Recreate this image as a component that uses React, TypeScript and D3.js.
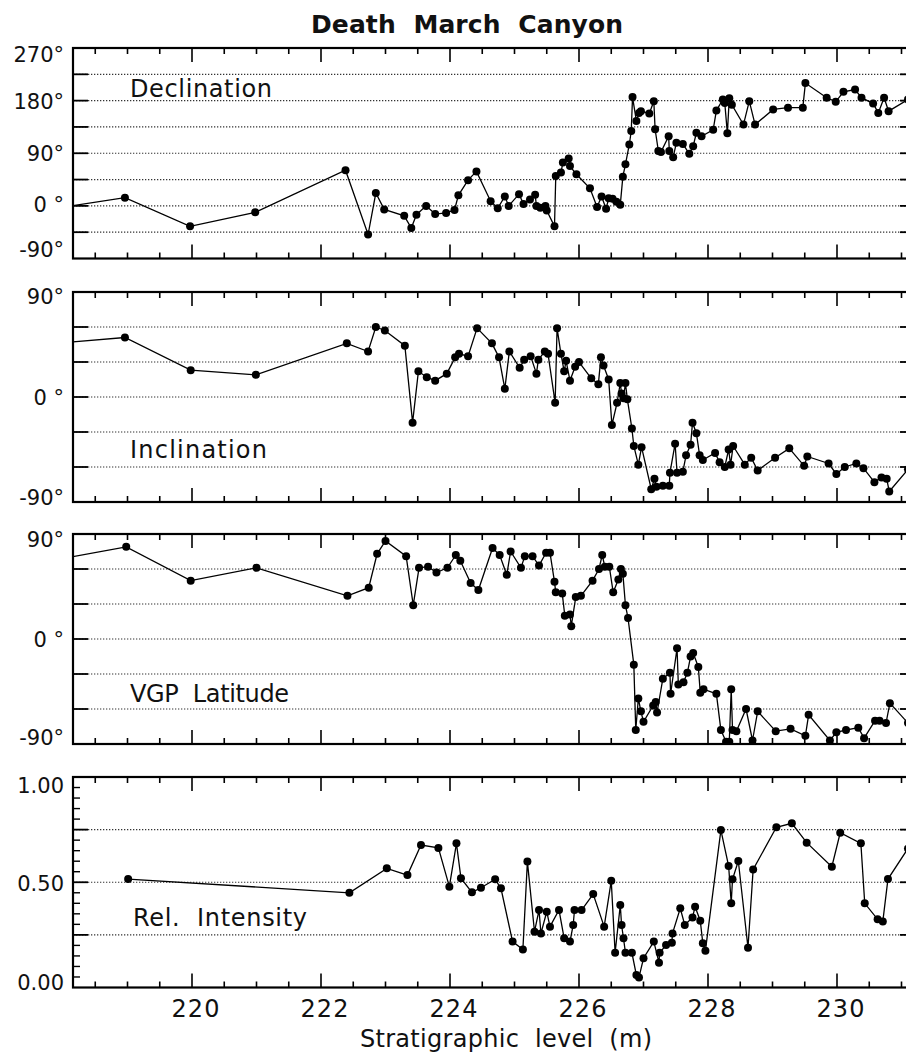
import React from 'react';
import * as d3 from 'd3';

// ---------- Data (stratigraphic level in m) ----------
const decDepth = [217.9, 218.96, 219.97, 220.98, 222.38, 222.73, 222.85, 222.98, 223.29, 223.4, 223.48, 223.63, 223.77, 223.94, 224.07, 224.13, 224.28, 224.41, 224.63, 224.74, 224.85, 224.91, 225.07, 225.14, 225.24, 225.32, 225.34, 225.4, 225.48, 225.5, 225.62, 225.64, 225.72, 225.75, 225.84, 225.86, 225.96, 226.17, 226.28, 226.35, 226.42, 226.46, 226.52, 226.58, 226.64, 226.68, 226.72, 226.78, 226.81, 226.83, 226.89, 226.93, 226.96, 227.09, 227.16, 227.18, 227.23, 227.27, 227.39, 227.4, 227.46, 227.51, 227.61, 227.71, 227.77, 227.82, 227.9, 228.08, 228.13, 228.23, 228.26, 228.3, 228.33, 228.37, 228.55, 228.64, 228.73, 229.01, 229.24, 229.47, 229.51, 229.84, 229.98, 230.1, 230.28, 230.38, 230.56, 230.64, 230.73, 230.8, 231.1];
const decValue = [-4, 14, -35, -11, 61, -49, 22, -6, -17, -38, -15, 0, -14, -12, -7, 18, 44, 59, 8, -4, 16, 0, 20, 3, 11, 19, 0, -3, 0, -8, -35, 51, 57, 74, 81, 68, 54, 30, -2, 16, -5, 13, 12, 7, 2, 50, 71, 105, 128, 186, 145, 159, 162, 158, 179, 131, 94, 92, 119, 94, 83, 108, 106, 89, 102, 125, 119, 130, 163, 182, 176, 124, 184, 173, 139, 179, 139, 165, 168, 168, 210, 185, 178, 195, 199, 185, 175, 159, 185, 162, 182];

const incDepth = [217.9, 218.96, 219.98, 220.99, 222.4, 222.73, 222.85, 222.99, 223.3, 223.42, 223.51, 223.64, 223.77, 223.95, 224.08, 224.14, 224.28, 224.42, 224.65, 224.76, 224.85, 224.92, 225.08, 225.15, 225.25, 225.34, 225.37, 225.47, 225.52, 225.63, 225.66, 225.72, 225.77, 225.8, 225.86, 225.94, 226.0, 226.19, 226.3, 226.34, 226.38, 226.46, 226.51, 226.59, 226.64, 226.66, 226.69, 226.72, 226.75, 226.82, 226.85, 226.92, 226.97, 227.12, 227.17, 227.2, 227.3, 227.4, 227.41, 227.49, 227.52, 227.61, 227.66, 227.73, 227.76, 227.82, 227.87, 227.92, 228.11, 228.18, 228.26, 228.32, 228.35, 228.39, 228.57, 228.67, 228.77, 229.04, 229.26, 229.49, 229.54, 229.87, 229.99, 230.12, 230.3, 230.41, 230.58, 230.69, 230.77, 230.81, 231.1];
const incValue = [46, 51, 23, 19, 46, 39, 60, 57, 44, -22, 22, 17, 14, 20, 34, 37, 35, 59, 46, 34, 7, 39, 25, 32, 35, 20, 32, 39, 37, -5, 59, 37, 22, 31, 14, 26, 30, 16, 11, 34, 27, 15, -24, -5, 12, 3, -1, 12, -2, -27, -42, -58, -43, -79, -70, -77, -76, -76, -65, -40, -65, -64, -50, -41, -22, -31, -50, -54, -48, -56, -60, -45, -58, -42, -58, -52, -63, -52, -44, -59, -51, -57, -66, -60, -57, -61, -73, -69, -70, -81, -62];

const vgpDepth = [217.9, 218.98, 219.98, 221.0, 222.41, 222.74, 222.87, 223.0, 223.32, 223.43, 223.52, 223.66, 223.79, 223.96, 224.09, 224.16, 224.32, 224.44, 224.66, 224.77, 224.88, 224.94, 225.1, 225.16, 225.28, 225.38, 225.49, 225.55, 225.62, 225.64, 225.74, 225.78, 225.86, 225.88, 225.95, 226.03, 226.21, 226.31, 226.36, 226.4, 226.47, 226.53, 226.61, 226.65, 226.68, 226.72, 226.76, 226.85, 226.88, 226.92, 226.96, 227.0, 227.15, 227.19, 227.21, 227.3, 227.41, 227.42, 227.52, 227.54, 227.62, 227.68, 227.73, 227.77, 227.85, 227.88, 227.93, 228.13, 228.2, 228.28, 228.33, 228.36, 228.38, 228.44, 228.59, 228.69, 228.77, 229.05, 229.28, 229.51, 229.56, 229.89, 229.99, 230.14, 230.33, 230.42, 230.59, 230.66, 230.76, 230.82, 231.1];
const vgpValue = [68, 79, 50, 61, 37, 44, 73, 84, 71, 29, 61, 62, 57, 61, 72, 67, 48, 42, 78, 72, 55, 75, 61, 71, 71, 63, 74, 74, 49, 40, 39, 20, 21, 11, 36, 37, 50, 60, 72, 62, 62, 40, 51, 60, 56, 29, 18, -22, -78, -51, -62, -71, -57, -54, -63, -34, -29, -47, -8, -39, -37, -29, -15, -12, -24, -46, -43, -47, -78, -88, -88, -43, -78, -79, -60, -87, -62, -79, -77, -83, -65, -87, -80, -78, -76, -85, -70, -70, -72, -55, -72];

const intDepth = [219.01, 222.44, 223.02, 223.34, 223.55, 223.82, 223.99, 224.1, 224.17, 224.34, 224.48, 224.7, 224.79, 224.97, 225.13, 225.2, 225.31, 225.38, 225.41, 225.5, 225.55, 225.69, 225.77, 225.86, 225.91, 225.93, 226.04, 226.22, 226.39, 226.5, 226.56, 226.64, 226.66, 226.69, 226.72, 226.82, 226.89, 226.93, 227.0, 227.16, 227.24, 227.25, 227.35, 227.44, 227.45, 227.57, 227.64, 227.76, 227.8, 227.88, 227.92, 227.96, 228.2, 228.32, 228.36, 228.38, 228.47, 228.62, 228.7, 229.06, 229.3, 229.53, 229.92, 230.05, 230.37, 230.43, 230.63, 230.71, 230.79, 231.1];
const intValue = [0.515, 0.45, 0.566, 0.534, 0.677, 0.663, 0.479, 0.685, 0.519, 0.452, 0.474, 0.514, 0.471, 0.218, 0.181, 0.598, 0.265, 0.368, 0.257, 0.36, 0.289, 0.368, 0.234, 0.218, 0.297, 0.368, 0.368, 0.444, 0.289, 0.507, 0.165, 0.392, 0.297, 0.234, 0.165, 0.165, 0.059, 0.048, 0.139, 0.218, 0.118, 0.165, 0.202, 0.213, 0.257, 0.376, 0.297, 0.333, 0.384, 0.317, 0.21, 0.175, 0.748, 0.577, 0.4, 0.514, 0.601, 0.189, 0.561, 0.761, 0.78, 0.688, 0.574, 0.735, 0.685, 0.4, 0.324, 0.313, 0.515, 0.66];

const xTickLabels = ['220', '222', '224', '226', '228', '230'];
const decTicks = ['270°', '180°', '90°', '0 °', '-90°'];
const incTicks = ['90°', '0 °', '-90°'];
const vgpTicks = ['90°', '0 °', '-90°'];
const intTicks = ['1.00', '0.50', '0.00'];

const FONT = '"DejaVu Sans", Verdana, sans-serif';
const X0 = 73;
const X1 = 915;
const x = d3.scaleLinear().domain([220, 230]).range([192, 837]);

type Panel = {
  id: string;
  depth: number[];
  value: number[];
  top: number;
  bottom: number;
  domain: [number, number];
  grid: number[];
  minor: number[];
  tickVals: number[];
  tickText: string[];
  tickOffset: number[];
  label: string;
  labelX: number;
  labelY: number;
  labelLen: number;
};

const panels: Panel[] = [
  {
    id: 'dec', depth: decDepth, value: decValue, top: 48, bottom: 258.5, domain: [-90, 270],
    grid: [-45, 0, 45, 90, 135, 180, 225], minor: [],
    tickVals: [270, 180, 90, 0, -90], tickText: decTicks, tickOffset: [6, 0.5, 0, -1.5, -9.5],
    label: 'Declination', labelX: 130, labelY: 97, labelLen: 142,
  },
  {
    id: 'inc', depth: incDepth, value: incValue, top: 292, bottom: 502, domain: [-90, 90],
    grid: [-60, -30, 0, 30, 60], minor: [],
    tickVals: [90, 0, -90], tickText: incTicks, tickOffset: [4, 0.5, -4.5],
    label: 'Inclination', labelX: 130, labelY: 458, labelLen: 137,
  },
  {
    id: 'vgp', depth: vgpDepth, value: vgpValue, top: 534, bottom: 744, domain: [-90, 90],
    grid: [-60, -30, 0, 30, 60], minor: [],
    tickVals: [90, 0, -90], tickText: vgpTicks, tickOffset: [5.5, 0.5, -6.5],
    label: 'VGP  Latitude', labelX: 130, labelY: 702, labelLen: 159,
  },
  {
    id: 'int', depth: intDepth, value: intValue, top: 777, bottom: 987.5, domain: [0, 1],
    grid: [0.25, 0.5, 0.75], minor: d3.range(0.05, 1.0, 0.05).map((v) => Math.round(v * 100) / 100),
    tickVals: [1, 0.5, 0], tickText: intTicks, tickOffset: [8.5, 1.5, -5],
    label: 'Rel.  Intensity', labelX: 133, labelY: 926, labelLen: 174,
  },
];

const xTicks = d3.range(218.5, 231.01, 0.5);

function PanelView({ p }: { p: Panel }) {
  const y = d3.scaleLinear().domain(p.domain).range([p.bottom, p.top]);
  const pts = p.depth.map((d, i) => [x(d), y(p.value[i])] as [number, number]);
  const line = d3.line()(pts) || '';
  const clipId = `clip-${p.id}`;
  const isMajorX = (t: number) => Math.abs(t / 2 - Math.round(t / 2)) < 1e-6;
  return (
    <g>
      <defs>
        <clipPath id={clipId}>
          <rect x={X0} y={p.top} width={X1 - X0} height={p.bottom - p.top} />
        </clipPath>
      </defs>
      {p.grid.map((g) => (
        <line key={`g${g}`} x1={X0} x2={X1} y1={y(g)} y2={y(g)} stroke="#333" strokeWidth={1.2} strokeDasharray="1.3 1.7" />
      ))}
      {p.grid.map((g) => (
        <g key={`t${g}`}>
          <line x1={X0} x2={X0 + 15} y1={y(g)} y2={y(g)} stroke="#000" strokeWidth={1.8} />
          <line x1={X1 - 15} x2={X1} y1={y(g)} y2={y(g)} stroke="#000" strokeWidth={1.8} />
        </g>
      ))}
      {p.minor.filter((m) => !p.grid.includes(m)).map((m) => (
        <line key={`m${m}`} x1={X0} x2={X0 + 7} y1={y(m)} y2={y(m)} stroke="#000" strokeWidth={1.4} />
      ))}
      {xTicks.map((t) => {
        const len = isMajorX(t) ? 14 : 6;
        return (
          <g key={`x${t}`}>
            <line x1={x(t)} x2={x(t)} y1={p.top} y2={p.top + len} stroke="#000" strokeWidth={1.6} />
            <line x1={x(t)} x2={x(t)} y1={p.bottom} y2={p.bottom - len} stroke="#000" strokeWidth={1.6} />
          </g>
        );
      })}
      <g clipPath={`url(#${clipId})`}>
        <path d={line} fill="none" stroke="#000" strokeWidth={1.3} />
        {pts.map(([px, py], i) => (
          <circle key={i} cx={px} cy={py} r={4} fill="#000" />
        ))}
      </g>
      <rect x={X0} y={p.top} width={X1 - X0} height={p.bottom - p.top} fill="none" stroke="#000" strokeWidth={2.2} />
      {p.tickVals.map((v, i) => (
        <text key={`l${v}`} x={64} y={y(v) + p.tickOffset[i]} dy="0.36em" textAnchor="end" fontFamily={FONT} fontSize={21} fill="#111">
          {p.tickText[i]}
        </text>
      ))}
      <text x={p.labelX} y={p.labelY} fontFamily={FONT} fontSize={24} fill="#111" textLength={p.labelLen} lengthAdjust="spacing" style={{ whiteSpace: 'pre' }}>
        {p.label}
      </text>
    </g>
  );
}

export default function App() {
  return (
    <svg width={906} height={1052} style={{ position: 'absolute', left: 0, top: 0, background: '#fff' }}>
      <rect x={0} y={0} width={906} height={1052} fill="#fff" />
      <text x={311} y={33} fontFamily={FONT} fontWeight="bold" fontSize={25} fill="#111" textLength={312} lengthAdjust="spacing" style={{ whiteSpace: 'pre' }}>
        {'Death  March  Canyon'}
      </text>
      {panels.map((p) => (
        <PanelView key={p.id} p={p} />
      ))}
      {xTickLabels.map((t) => (
        <text key={t} x={x(+t) + 4} y={1017} textAnchor="middle" fontFamily={FONT} fontSize={24} letterSpacing={1} fill="#111">
          {t}
        </text>
      ))}
      <text x={360} y={1047} fontFamily={FONT} fontSize={24} fill="#111" textLength={292} lengthAdjust="spacing" style={{ whiteSpace: 'pre' }}>
        {'Stratigraphic  level  (m)'}
      </text>
    </svg>
  );
}
